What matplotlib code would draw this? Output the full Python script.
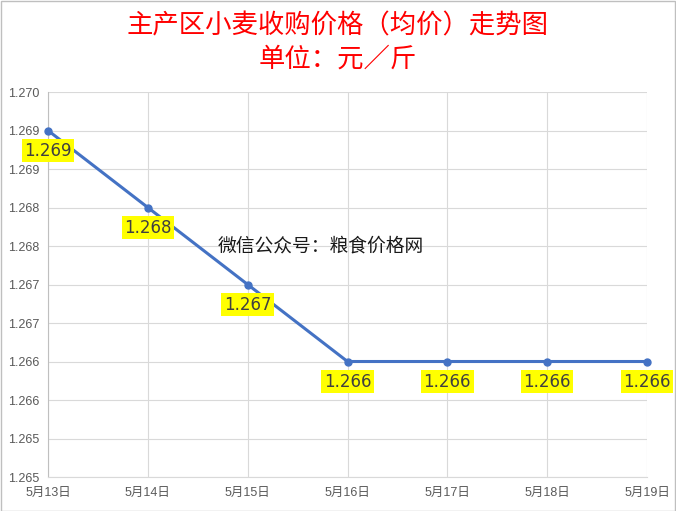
import matplotlib.pyplot as plt
from matplotlib.patches import Rectangle

# Data
dates = ['5月13日', '5月14日', '5月15日', '5月16日', '5月17日', '5月18日', '5月19日']
prices = [1.269, 1.268, 1.267, 1.266, 1.266, 1.266, 1.266]
ytick_vals = [1.2645, 1.2650, 1.2655, 1.2660, 1.2665, 1.2670, 1.2675, 1.2680, 1.2685, 1.2690, 1.2695]
ytick_labels = ['1.265', '1.265', '1.266', '1.266', '1.267', '1.267', '1.268', '1.268', '1.269', '1.269', '1.270']

cjk = ['Liberation Sans', 'Noto Sans CJK SC']

fig = plt.figure(figsize=(6.76, 5.11), dpi=100)
ax = fig.add_axes([48 / 676, 34 / 511, 599 / 676, 385 / 511])

x = list(range(len(dates)))
ax.plot(x, prices, color='#4472C4', lw=2.2, marker='o', ms=5, zorder=3, clip_on=False)

for xi, p in zip(x, prices):
    ax.annotate(f'{p:.3f}', (xi, p), xytext=(0, -14.5), textcoords='offset points',
                ha='center', va='center', fontsize=12, color='#404040',
                family=['DejaVu Sans'],
                bbox=dict(boxstyle='square,pad=0.15', fc='#FFFF00', ec='none'),
                zorder=4, annotation_clip=False)

ax.set_xlim(0, len(dates) - 1)
ax.set_ylim(1.2645, 1.2695)
ax.set_xticks(x)
ax.set_xticklabels(dates, family=cjk, fontsize=9, color='#595959')
ax.set_yticks(ytick_vals)
ax.set_yticklabels(ytick_labels, family=cjk, fontsize=9, color='#595959')
ax.tick_params(axis='y', length=0, pad=6)
ax.tick_params(axis='x', length=0, pad=7)
ax.grid(True, color='#d9d9d9', lw=0.8)
for s in ['top', 'right']:
    ax.spines[s].set_visible(False)
ax.spines['left'].set_color('#bfbfbf')
ax.spines['bottom'].set_color('#d9d9d9')

fig.text(0.5, 1 - 26 / 511, '主产区小麦收购价格（均价）走势图', ha='center', va='center',
         fontsize=19, color='#FF0000', family=['Noto Sans CJK SC'])
fig.text(0.5, 1 - 59 / 511, '单位：元／斤', ha='center', va='center',
         fontsize=19, color='#FF0000', family=['Noto Sans CJK SC'])
fig.text(321 / 676, 1 - 246 / 511, '微信公众号：粮食价格网', ha='center', va='center',
         fontsize=13.5, color='#1a1a1a', family=['Noto Sans CJK SC'])

fig.patches.append(Rectangle((0.5 / 676, 0.5 / 511), 674 / 676, 509 / 511, transform=fig.transFigure,
                             fill=False, ec='#bfbfbf', lw=1))

fig.savefig('out.png', dpi=100)
